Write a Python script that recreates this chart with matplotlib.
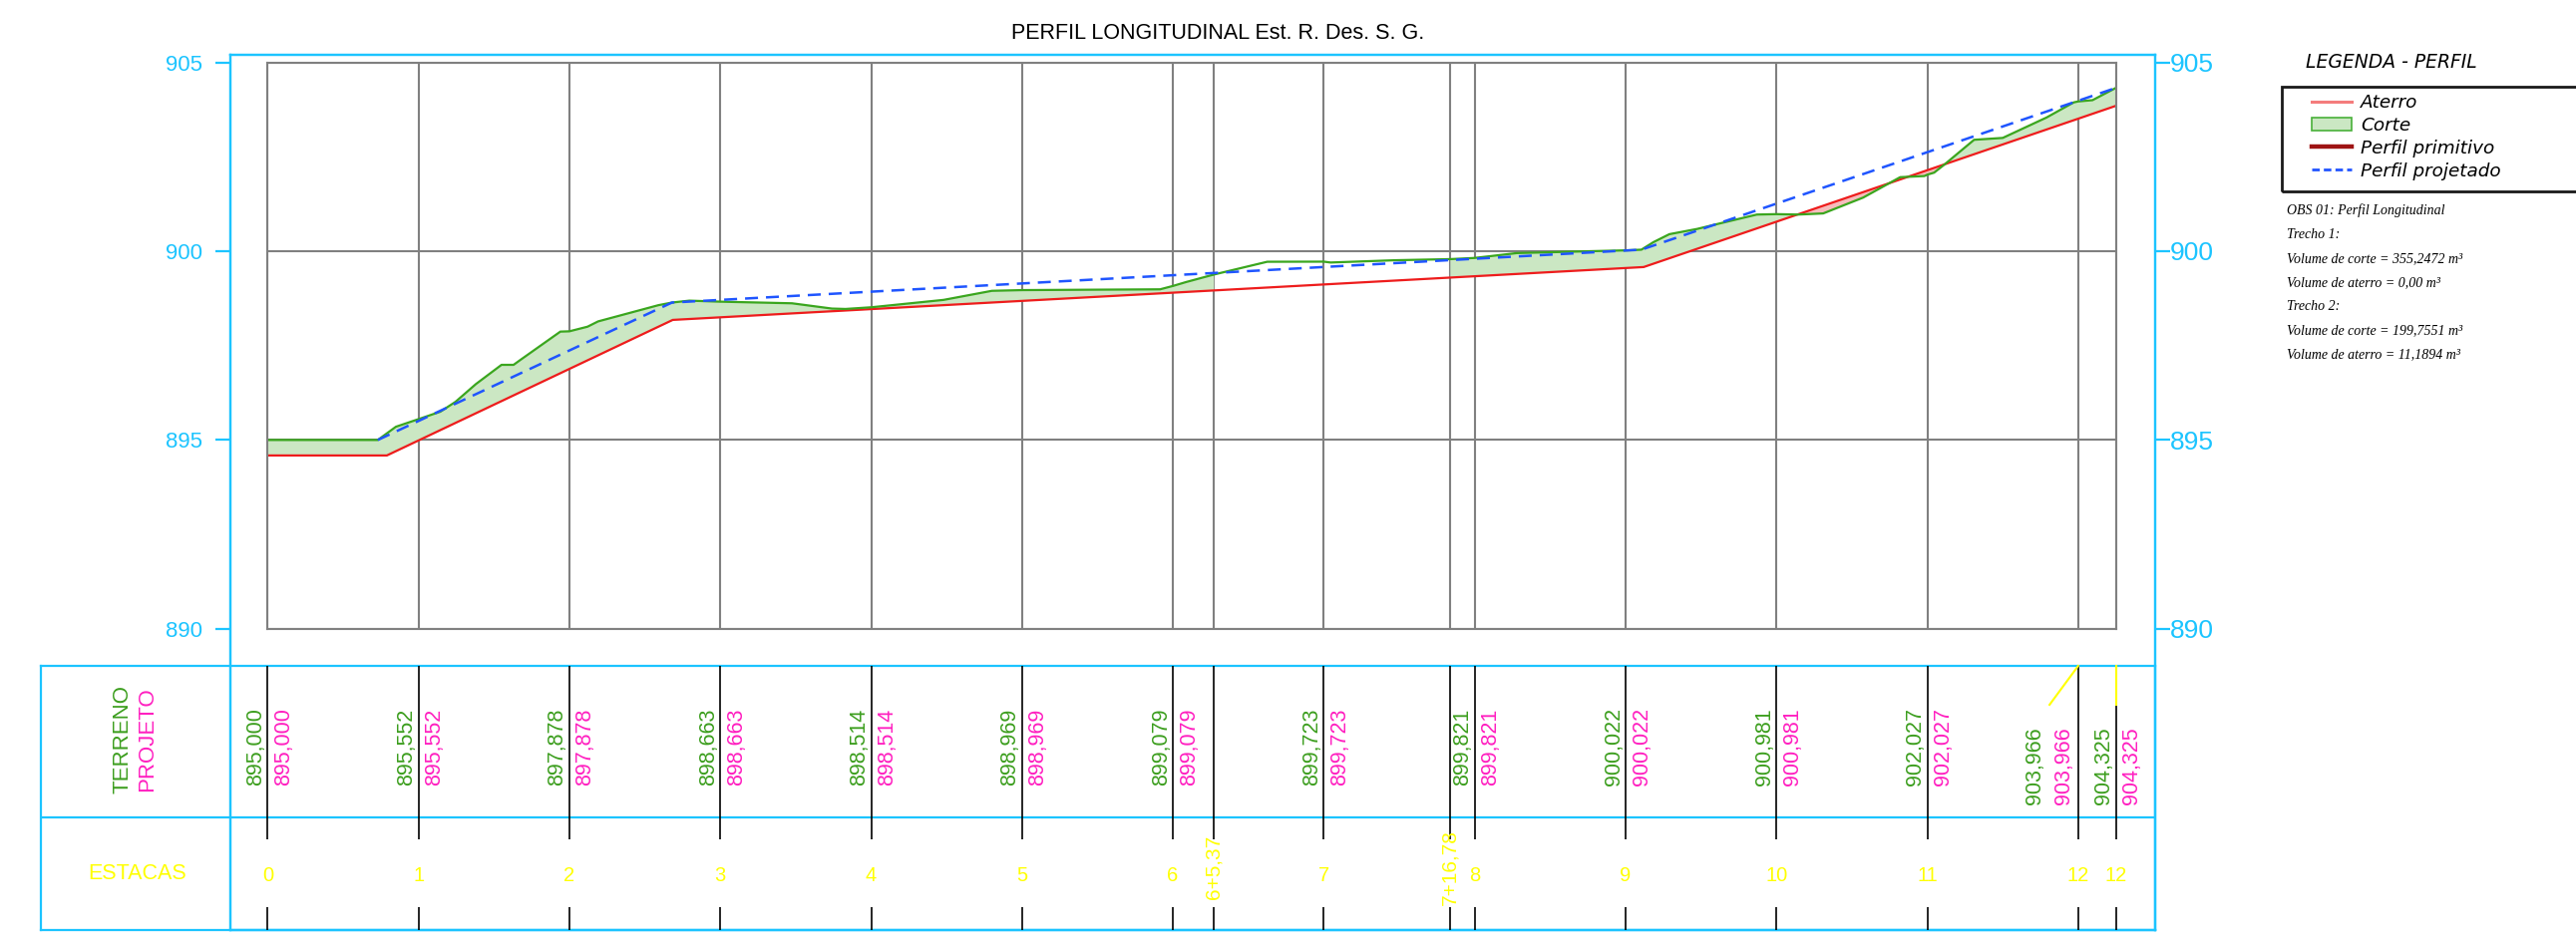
import numpy as np
import matplotlib.pyplot as plt
from matplotlib import transforms
from matplotlib.lines import Line2D
from matplotlib.patches import Patch, Rectangle

plt.rcParams['font.family'] = ['Liberation Sans', 'DejaVu Sans']

# terreno (green line): distance along the axis (m) and elevation (m)
terreno_dist = [0, 14.6, 17.0, 20.0, 22.9, 24.9, 27.6, 31.0, 32.6, 33.5, 38.8, 40.0,
                42.4, 43.8, 51.8, 53.6, 55.9, 60.0, 69.5, 74.8, 76.6, 80.0, 89.6, 96.0,
                100.0, 118.3, 120.0, 121.7, 125.4, 132.5, 140.0, 140.9, 149.4, 156.8,
                160.0, 165.6, 180.0, 182.1, 183.7, 185.8, 189.5, 192.8, 197.4, 200.0,
                202.9, 206.2, 211.5, 216.4, 219.6, 220.0, 220.9, 222.3, 226.2, 230.0,
                235.8, 239.4, 240.0, 241.9, 245.0]
terreno_cota = [895.0, 895.0, 895.35, 895.552, 895.75, 896.01, 896.48, 896.99, 896.99, 897.12,
                897.87, 897.878, 898.0, 898.14, 898.57, 898.64, 898.69, 898.663, 898.62, 898.48,
                898.47, 898.514, 898.71, 898.95, 898.969, 898.99, 899.079, 899.18, 899.38,
                899.72, 899.723, 899.70, 899.76, 899.79, 899.821, 899.95, 900.022, 900.04,
                900.24, 900.45, 900.59, 900.75, 900.97, 900.981, 900.97, 901.0, 901.42, 901.96,
                901.99, 902.027, 902.08, 902.30, 902.95, 903.0, 903.54, 903.94, 903.966, 904.0,
                904.325]

# perfil primitivo (red line)
primitivo_dist = [0, 15.8, 53.7, 182.4, 245.0]
primitivo_cota = [894.59, 894.59, 898.18, 899.58, 903.85]

# perfil projetado (blue dashed)
projeto_dist = [14.6, 53.6, 182.1, 245.0]
projeto_cota = [895.0, 898.64, 900.04, 904.325]

# trechos where cut/fill is shaded
trechos = [(0, 125.37), (156.78, 245.0)]

# stations in the table
estaca_dist = [0, 20, 40, 60, 80, 100, 120, 125.37, 140, 156.78, 160, 180, 200, 220, 240, 245]
estaca_label = ['0', '1', '2', '3', '4', '5', '6', '6+5,37', '7', '7+16,78', '8', '9',
                '10', '11', '12', '12']

cota_dist = [0, 20, 40, 60, 80, 100, 120, 140, 160, 180, 200, 220, 240, 245]
cota_terreno = ['895,000', '895,552', '897,878', '898,663', '898,514', '898,969', '899,079',
                '899,723', '899,821', '900,022', '900,981', '902,027', '903,966', '904,325']
cota_projeto = ['895,000', '895,552', '897,878', '898,663', '898,514', '898,969', '899,079',
                '899,723', '899,821', '900,022', '900,981', '902,027', '903,966', '904,325']

obs_lines = ['OBS 01: Perfil Longitudinal', 'Trecho 1:',
             'Volume de corte = 355,2472 m³', 'Volume de aterro = 0,00 m³',
             'Trecho 2:', 'Volume de corte = 199,7551 m³', 'Volume de aterro = 11,1894 m³']

cyan = '#1cc4ff'
gray = '#808080'
green = '#3aa61e'
txt_green = '#3c9e1e'
magenta = '#ff1fc0'
yellow = '#ffff00'
red = '#ee1c1c'
blue = '#1f55ff'
corte_fill = '#cbe7c3'
aterro_fill = '#f6bcbc'

fig = plt.figure(figsize=(25.83, 9.44), dpi=100)

# layout (figure fractions)
ax_l, ax_r, ax_b, ax_t = 0.1039, 0.8214, 0.3318, 0.9337
fr_l, fr_r, fr_b, fr_t = 0.08935, 0.8366, 0.01165, 0.94174
tb_l, tb_t, tb_m = 0.01587, 0.29237, 0.13136

# cyan frame with elevation scale
axf = fig.add_axes([fr_l, fr_b, fr_r - fr_l, fr_t - fr_b], facecolor='none')
unit = (ax_t - ax_b) / 15
ylo = 890 - (ax_b - fr_b) / unit
yhi = 905 + (fr_t - ax_t) / unit
axf.set_ylim(ylo, yhi)
axf.set_xticks([])
axf.set_yticks([890, 895, 900, 905])
axf.tick_params(axis='y', colors=cyan, length=11, width=1.6, pad=9, labelsize=16)
for s in axf.spines.values():
    s.set_color(cyan)
    s.set_linewidth(1.6)
axr = axf.twinx()
axr.set_ylim(ylo, yhi)
axr.set_yticks([890, 895, 900, 905])
axr.tick_params(axis='y', colors=cyan, length=11, width=1.6, pad=0, labelsize=19)
for s in axr.spines.values():
    s.set_color(cyan)
    s.set_linewidth(1.6)

# table frame
axt = fig.add_axes([tb_l, fr_b, fr_r - tb_l, tb_t - fr_b], facecolor='none')
axt.set_xticks([])
axt.set_yticks([])
for s in axt.spines.values():
    s.set_color(cyan)
    s.set_linewidth(1.6)
axt.axhline((tb_m - fr_b) / (tb_t - fr_b), color=cyan, lw=1.6)

# profile
ax = fig.add_axes([ax_l, ax_b, ax_r - ax_l, ax_t - ax_b])
for s in ax.spines.values():
    s.set_color(gray)
    s.set_linewidth(1.5)
ax.set_xticks(estaca_dist)
ax.set_yticks([890, 895, 900, 905])
ax.grid(True, color=gray, lw=1.5)
ax.set_axisbelow(True)
ax.tick_params(length=0, labelbottom=False, labelleft=False)

x_all = np.union1d(np.union1d(terreno_dist, primitivo_dist), [t for tr in trechos for t in tr])
g = np.interp(x_all, terreno_dist, terreno_cota)
r = np.interp(x_all, primitivo_dist, primitivo_cota)
for a, b in trechos:
    m = (x_all >= a) & (x_all <= b)
    ax.fill_between(x_all[m], g[m], r[m], where=g[m] >= r[m], interpolate=True,
                    color=corte_fill, lw=0)
    ax.fill_between(x_all[m], g[m], r[m], where=g[m] < r[m], interpolate=True,
                    color=aterro_fill, lw=0)

ax.plot(primitivo_dist, primitivo_cota, color=red, lw=1.6)
ax.plot(terreno_dist, terreno_cota, color=green, lw=1.6)
ax.plot(projeto_dist, projeto_cota, color=blue, lw=1.8, dashes=(5.2, 3.2))

# table contents
trans = transforms.blended_transform_factory(ax.transData, fig.transFigure)
low = 0.25106
ax.vlines(estaca_dist[:-1], tb_m, tb_t, transform=trans, colors='k', lw=1.2, clip_on=False)
ax.vlines(estaca_dist[-1], tb_m, low, transform=trans, colors='k', lw=1.2, clip_on=False)
ax.vlines(estaca_dist, 0.10805, tb_m, transform=trans, colors='k', lw=1.2, clip_on=False)
ax.vlines(estaca_dist, fr_b, 0.03602, transform=trans, colors='k', lw=1.2, clip_on=False)
ax.plot([240, 236.2], [tb_t, low], transform=trans, color=yellow, lw=1.5, clip_on=False)
ax.plot([245, 245], [tb_t, low], transform=trans, color=yellow, lw=1.5, clip_on=False)

for d, lab in zip(estaca_dist, estaca_label):
    if '+' in lab:
        ax.text(d, 0.078, lab, transform=trans, rotation=90, ha='center', va='center',
                color=yellow, fontsize=15, clip_on=False)
    else:
        ax.text(d, 0.0699, lab, transform=trans, ha='center', va='center',
                color=yellow, fontsize=14.5, clip_on=False)

for d, t1, t2 in zip(cota_dist, cota_terreno, cota_projeto):
    y = 0.16525
    o1, o2, h2 = -1, 4, 'left'
    if d >= 240:
        y = 0.14513
    if d == 240:
        o1, o2, h2 = -24, -2.5, 'right'
    ax.annotate(t1, xy=(d, y), xycoords=trans, xytext=(o1, 0), textcoords='offset points',
                rotation=90, ha='right', va='bottom', color=txt_green, fontsize=15.5,
                annotation_clip=False)
    ax.annotate(t2, xy=(d, y), xycoords=trans, xytext=(o2, 0), textcoords='offset points',
                rotation=90, ha=h2, va='bottom', color=magenta, fontsize=15.5,
                annotation_clip=False)

ax.set_xlim(0, 245)
ax.set_ylim(890, 905)

fig.text(0.0476, 0.214, 'TERRENO', rotation=90, ha='center', va='center', color=txt_green, fontsize=16)
fig.text(0.0573, 0.214, 'PROJETO', rotation=90, ha='center', va='center', color=magenta, fontsize=16)
fig.text(0.0534, 0.071, 'ESTACAS', ha='center', va='center', color=yellow, fontsize=15.5)

fig.text(0.4726, 0.965, 'PERFIL LONGITUDINAL Est. R. Des. S. G.', ha='center', va='center',
         fontsize=15.5)

# legend
fig.text(0.8951, 0.9333, 'LEGENDA - PERFIL', family='DejaVu Sans', style='italic',
         fontsize=13.5, va='center')
handles = [Line2D([], [], color='#f47c7c', lw=2.2),
           Patch(facecolor=corte_fill, edgecolor='#49b03a', lw=1.2),
           Line2D([], [], color='#9e1414', lw=3.2),
           Line2D([], [], color='#2255ff', lw=2, dashes=(2.7, 1.5))]
labels = ['Aterro', 'Corte', 'Perfil primitivo', 'Perfil projetado']
fig.legend(handles, labels, loc='upper left', bbox_to_anchor=(0.8974, 0.9005), frameon=False,
           prop={'family': 'DejaVu Sans', 'style': 'italic', 'size': 13.2},
           handlelength=2.2, handletextpad=0.5, labelspacing=0.27, borderaxespad=0, borderpad=0)
fig.add_artist(Rectangle((0.8857, 0.7966), 0.2, 0.1112, transform=fig.transFigure,
                         fill=False, edgecolor='#1a1a1a', lw=2, clip_on=False))

for i, line in enumerate(obs_lines):
    fig.text(0.8877, 0.7765 - i * 0.0256, line, family=['Liberation Serif', 'DejaVu Serif'],
             style='italic', fontsize=10, va='center')

fig.savefig('out.png', dpi=100)
